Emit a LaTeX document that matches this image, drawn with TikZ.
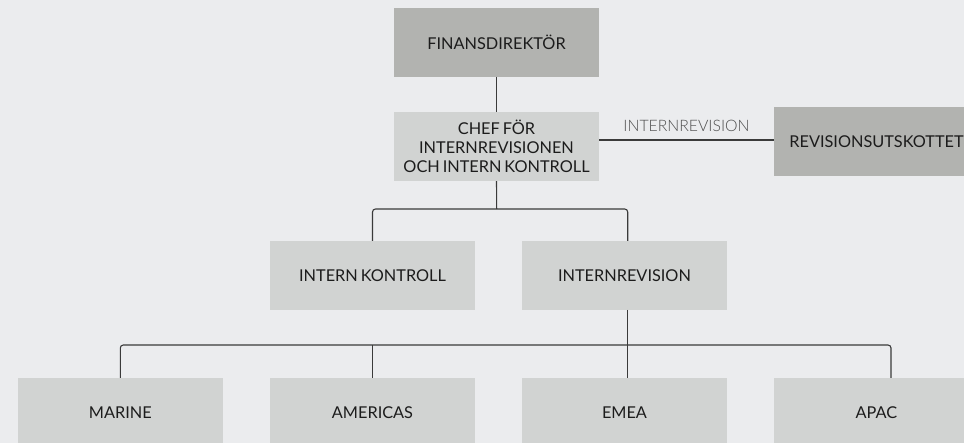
\documentclass[tikz,border=0pt]{standalone}
\usepackage{fontspec}
\setmainfont{Lato}
\newfontfamily\lightfont{Lato Light}
\newcommand\orgfont{\fontsize{16.3}{18.7}\selectfont\spaceskip=0.18em plus 0.05em minus 0.02em\relax}
\newcommand\lblfont{\lightfont\fontsize{15.8}{18}\selectfont}
\definecolor{bg}{RGB}{235,236,238}
\definecolor{lightbox}{RGB}{209,211,210}
\definecolor{darkbox}{RGB}{178,179,176}
\definecolor{txt}{RGB}{28,28,28}
\definecolor{linec}{RGB}{58,58,58}
\tikzset{
  orgbox/.style={minimum width=205pt, minimum height=69pt, inner sep=0pt, align=center,
    text=txt, font=\orgfont},
  lightorg/.style={orgbox, fill=lightbox},
  darkorg/.style={orgbox, fill=darkbox},
  conn/.style={draw=linec, line width=1.1pt, rounded corners=3pt},
  edgelabel/.style={text=linec!90, font=\lblfont, inner sep=0pt}
}
\begin{document}
\begin{tikzpicture}[x=1pt,y=-1pt]
\useasboundingbox (0,0) rectangle (964,443);
\clip (0,0) rectangle (964,443);
\fill[bg] (0,0) rectangle (964,443);
% nodes
\node[darkorg]  (finans) at (496.5,42.5)  {FINANSDIREKTÖR};
\node[lightorg] (chef)   at (496.5,146.5) {CHEF FÖR\\INTERNREVISIONEN\\OCH INTERN KONTROLL};
\node[darkorg]  (rev)    at (876.5,141.5) {REVISIONSUTSKOTTET};
\node[lightorg] (ik)     at (372.5,275.5) {INTERN KONTROLL};
\node[lightorg] (ir)     at (624.5,275.5) {INTERNREVISION};
\node[lightorg] (marine) at (120.3,412.5) {MARINE};
\node[lightorg] (amer)   at (372.5,412.5) {AMERICAS};
\node[lightorg] (emea)   at (624.5,412.5) {EMEA};
\node[lightorg] (apac)   at (876.5,412.5) {APAC};
% helper coordinates
\coordinate (bus1) at (496.7,209);
\coordinate (bus2) at (627.7,345);
\coordinate (irtop) at (627.7,241);
\coordinate (irbot) at (627.7,310);
\coordinate (emeatop) at (627.7,378);
\coordinate (apactop) at (891,378);
\coordinate (revline) at (0,140);
% connectors
\draw[conn] (finans.south) -- (chef.north);
\draw[conn] (chef.south) -- (bus1);
\draw[conn] (ik.north) |- (irtop |- bus1) -- (irtop);
\draw[conn] (irbot) -- (emeatop);
\draw[conn] (marine.north) |- (apactop |- bus2) -- (apactop);
\draw[conn] (amer.north) -- (amer.north |- bus2);
\draw[conn] (chef.east |- revline) -- node[edgelabel, above=8pt] {INTERNREVISION} (rev.west |- revline);
\end{tikzpicture}
\end{document}
